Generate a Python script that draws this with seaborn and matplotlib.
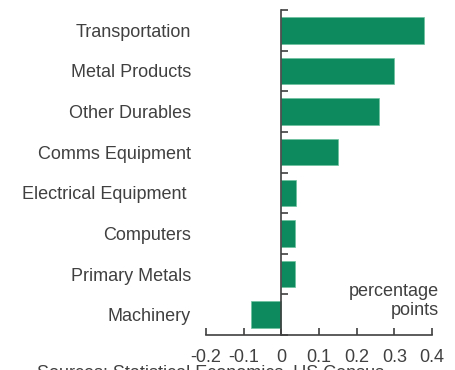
import numpy as np
import pandas as pd
import matplotlib
matplotlib.use("Agg")
import matplotlib.pyplot as plt
import seaborn as sns

categories = ["Transportation", "Metal Products", "Other Durables", "Comms Equipment",
              "Electrical Equipment ", "Computers", "Primary Metals", "Machinery"]
values = [0.38, 0.30, 0.26, 0.15, 0.04, 0.035, 0.035, -0.08]
xticks = [-0.2, -0.1, 0, 0.1, 0.2, 0.3, 0.4]
xticklabels = ["-0.2", "-0.1", "0", "0.1", "0.2", "0.3", "0.4"]

sns.set_theme(style="white")
plt.rcParams['font.family'] = ['Liberation Sans', 'DejaVu Sans']

dark = "#404040"
green = "#0E8A5F"

df = pd.DataFrame({"cat": categories, "val": values})

fig = plt.figure(figsize=(4.55, 3.7), dpi=100)
ax = fig.add_axes([206/455, 1-335/370, 226/455, 325/370])

sns.barplot(data=df, x="val", y="cat", orient="h", color=green, width=0.65,
            edgecolor="#6cc39e", linewidth=0.5, saturation=1, ax=ax)

ax.set_xlim(-0.2, 0.4)
ax.set_ylim(len(categories) - 0.5, -0.5)
ax.set_xlabel("")
ax.set_ylabel("")

for s in ["top", "right"]:
    ax.spines[s].set_visible(False)
ax.spines["left"].set_position(("data", 0))
for s in ["left", "bottom"]:
    ax.spines[s].set_color(dark)
    ax.spines[s].set_linewidth(1.2)

ax.set_xticks(xticks)
ax.set_xticklabels(xticklabels)
ax.tick_params(axis="x", direction="in", length=5, width=1.2, color=dark,
               labelsize=13, labelcolor=dark, pad=10, bottom=True)

ax.set_yticks(np.arange(len(categories)))
ax.set_yticklabels(categories)
ax.set_yticks(np.arange(len(categories) + 1) - 0.5, minor=True)
ax.tick_params(axis="y", which="major", length=0, labelsize=13, labelcolor=dark, pad=65)
ax.tick_params(axis="y", which="minor", direction="in", length=5, width=1.2, color=dark, left=True)

ax.text(1.03, 0.105, "percentage\npoints", transform=ax.transAxes, ha="right", va="center",
        fontsize=13, color=dark, linespacing=1.2)

fig.text(37/455, 1-377/370, "Sources: Statistical Economics, US Census", ha="left", va="baseline",
         fontsize=13, color=dark)

fig.savefig("out.png", dpi=100)
